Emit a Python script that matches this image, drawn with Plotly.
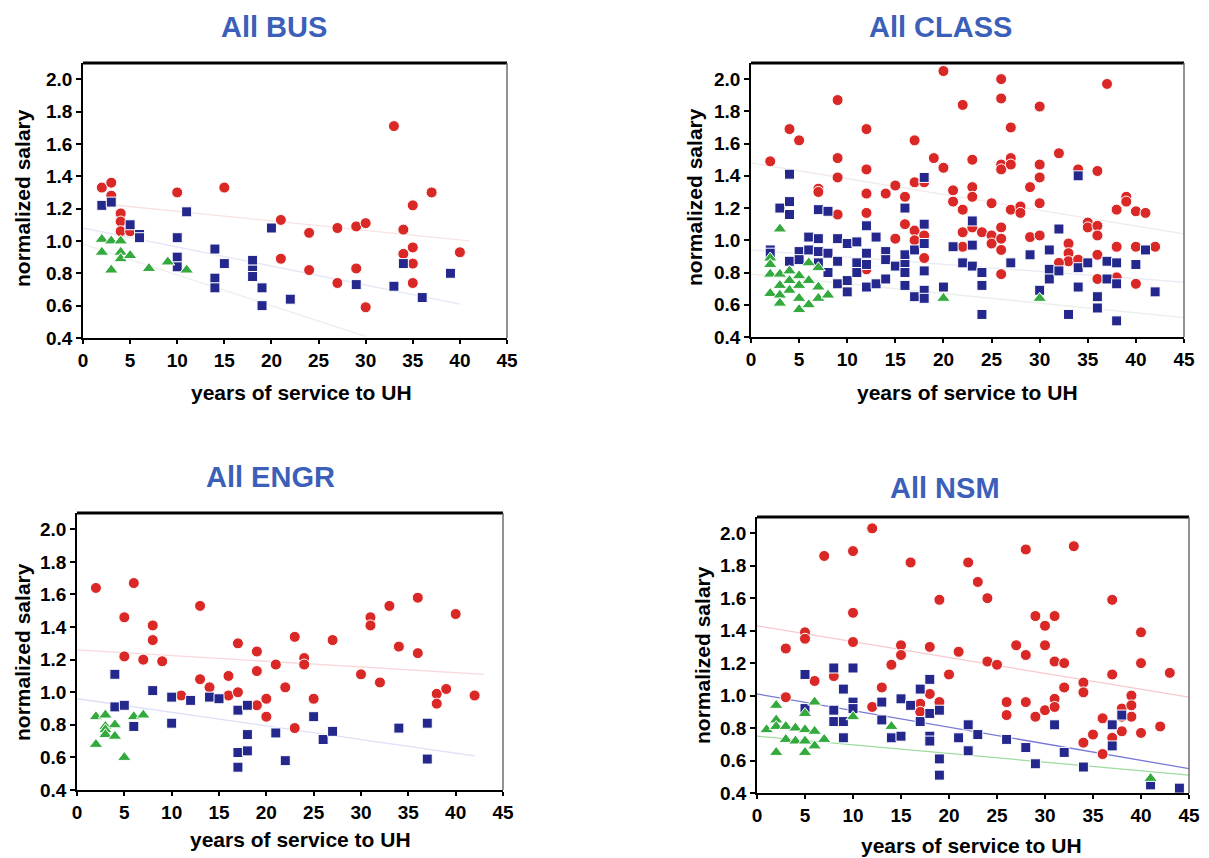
import plotly.graph_objects as go

# ---------------- DATA ----------------
titles = ["All BUS", "All CLASS", "All ENGR", "All NSM"]
x_title = "years of service to UH"
y_title = "normalized salary"
x_ticks = [0, 5, 10, 15, 20, 25, 30, 35, 40, 45]
y_ticks = [0.4, 0.6, 0.8, 1.0, 1.2, 1.4, 1.6, 1.8, 2.0]

# All BUS
bus_red_x = [2, 3, 3, 4, 4, 4, 5, 10, 15, 21, 21, 24, 24, 27, 27, 29, 29, 30, 30, 33, 34, 34, 35, 35, 35, 35, 37, 40]
bus_red_y = [1.33, 1.36, 1.28, 1.17, 1.12, 1.06, 1.06, 1.30, 1.33, 1.13, 0.89, 1.05, 0.82, 1.08, 0.74, 1.09, 0.83, 1.11, 0.59, 1.71, 1.07, 0.92, 1.22, 0.96, 0.86, 0.74, 1.30, 0.93]
bus_blue_x = [2, 3, 5, 6, 6, 10, 10, 10, 11, 14, 14, 14, 15, 18, 18, 18, 19, 19, 20, 22, 29, 33, 34, 36, 39]
bus_blue_y = [1.22, 1.24, 1.10, 1.04, 1.02, 1.02, 0.90, 0.84, 1.18, 0.95, 0.77, 0.71, 0.86, 0.88, 0.82, 0.78, 0.71, 0.60, 1.08, 0.64, 0.73, 0.72, 0.86, 0.65, 0.80]
bus_green_x = [2, 2, 3, 3, 4, 4, 4, 5, 7, 9, 11]
bus_green_y = [1.01, 0.93, 1.00, 0.82, 1.00, 0.93, 0.89, 0.91, 0.83, 0.87, 0.82]
bus_trend_x = {"red": [2, 41], "blue": [0, 40], "green": [0, 30]}
bus_trend_y = {"red": [1.23, 1.00], "blue": [1.08, 0.61], "green": [0.98, 0.41]}

# All CLASS
class_red_x = [2, 4, 5, 7, 7, 9, 9, 9, 9, 12, 12, 12, 12, 12, 14, 15, 15, 16, 17, 17, 16, 17, 18, 17, 18, 18,
               19, 20, 20, 21, 21, 22, 22, 22, 22, 23, 23, 23, 23, 24, 25, 25, 25, 26, 26, 26, 26, 26, 26, 26, 26,
               27, 27, 27, 27, 28, 28, 29, 29, 30, 30, 30, 30, 30, 32, 33, 33, 33, 32, 34, 34, 35, 35, 36, 36, 36,
               36, 36, 37, 38, 38, 38, 39, 39, 40, 40, 40, 41, 42]
class_red_y = [1.49, 1.69, 1.62, 1.32, 1.30, 1.87, 1.51, 1.39, 1.16, 1.69, 1.44, 1.29, 1.17, 0.82, 1.29, 1.34, 1.01,
               1.27, 1.62, 1.36, 1.10, 1.06, 1.03, 1.00, 0.89, 1.36, 1.51, 2.05, 1.45, 1.31, 1.24, 1.84, 1.19, 1.05,
               0.96, 1.50, 1.33, 1.27, 1.08, 1.05, 1.23, 1.03, 0.98, 2.00, 1.88, 1.47, 1.44, 1.08, 1.01, 0.94, 0.79,
               1.70, 1.51, 1.47, 1.19, 1.21, 1.17, 1.33, 1.02, 1.83, 1.47, 1.39, 1.23, 1.03, 1.54, 0.98, 0.92, 0.87,
               0.86, 1.44, 0.88, 1.11, 1.08, 1.43, 1.09, 1.03, 0.91, 0.76, 1.97, 1.19, 0.96, 0.77, 1.27, 1.24, 1.18,
               0.96, 0.73, 1.17, 0.96]
class_blue_x = [2, 2, 3, 4, 4, 4, 4, 5, 5, 6, 6, 7, 7, 7, 7, 8, 8, 8, 9, 9, 9, 10, 10, 10, 11, 11, 11, 12, 12, 12,
                12, 13, 13, 14, 14, 14, 15, 16, 16, 16, 16, 16, 17, 17, 18, 18, 18, 18, 18, 18, 20, 21, 22, 23, 23,
                23, 24, 24, 24, 27, 29, 30, 31, 31, 31, 32, 32, 33, 34, 34, 34, 35, 36, 36, 37, 37, 38, 38, 38, 40,
                41, 42]
class_blue_y = [0.94, 0.92, 1.20, 1.41, 1.24, 1.16, 0.87, 0.93, 0.88, 1.02, 0.94, 1.19, 1.01, 0.93, 0.86, 1.18, 0.92,
                0.80, 1.01, 0.87, 0.73, 0.98, 0.75, 0.68, 0.99, 0.86, 0.80, 1.09, 0.92, 0.85, 0.71, 1.02, 0.73, 0.93,
                0.88, 0.76, 0.84, 1.20, 0.91, 0.85, 0.80, 0.72, 0.94, 0.65, 1.39, 1.10, 0.98, 0.81, 0.69, 0.64, 0.71,
                0.96, 0.86, 1.12, 0.97, 0.84, 0.80, 0.72, 0.54, 0.86, 0.91, 0.69, 0.94, 0.82, 0.76, 1.07, 0.81, 0.54,
                1.40, 0.83, 0.71, 0.86, 0.65, 0.58, 0.87, 0.76, 0.86, 0.73, 0.50, 0.85, 0.94, 0.68]
class_green_x = [2, 2, 2, 2, 3, 3, 3, 3, 3, 4, 4, 4, 5, 5, 5, 5, 6, 6, 6, 7, 7, 7, 8, 20, 30]
class_green_y = [0.89, 0.85, 0.79, 0.67, 1.07, 0.79, 0.72, 0.66, 0.61, 0.81, 0.75, 0.69, 0.78, 0.72, 0.64, 0.57,
                 0.86, 0.75, 0.60, 0.83, 0.71, 0.64, 0.66, 0.64, 0.64]
class_trend_x = {"red": [0, 45], "blue": [0, 45], "green": [0, 45]}
class_trend_y = {"red": [1.48, 1.04], "blue": [0.94, 0.74], "green": [0.79, 0.52]}

# All ENGR
engr_red_x = [2, 5, 5, 6, 7, 8, 8, 9, 11, 13, 13, 14, 16, 16, 17, 17, 19, 19, 19, 20, 20, 21, 22, 23, 23, 24, 24,
              25, 27, 30, 31, 31, 32, 33, 34, 36, 36, 38, 38, 39, 40, 42]
engr_red_y = [1.64, 1.46, 1.22, 1.67, 1.20, 1.41, 1.32, 1.19, 0.98, 1.53, 1.08, 1.03, 1.10, 0.98, 1.30, 1.00, 1.25,
              1.13, 0.92, 0.96, 0.85, 1.17, 1.03, 1.34, 0.78, 1.21, 1.17, 0.96, 1.32, 1.11, 1.46, 1.41, 1.06, 1.53,
              1.28, 1.58, 1.24, 0.99, 0.93, 1.02, 1.48, 0.98]
engr_blue_x = [4, 4, 5, 6, 8, 10, 10, 12, 14, 15, 17, 17, 17, 18, 18, 18, 21, 22, 25, 26, 27, 34, 37, 37]
engr_blue_y = [1.11, 0.91, 0.92, 0.79, 1.01, 0.97, 0.81, 0.95, 0.97, 0.96, 0.89, 0.63, 0.54, 0.92, 0.74, 0.64, 0.75,
               0.58, 0.85, 0.71, 0.76, 0.78, 0.81, 0.59]
engr_green_x = [2, 2, 3, 3, 3, 3, 4, 4, 5, 6, 7]
engr_green_y = [0.85, 0.68, 0.86, 0.79, 0.77, 0.74, 0.80, 0.73, 0.60, 0.85, 0.86]
engr_trend_x = {"red": [0, 43], "blue": [0, 42]}
engr_trend_y = {"red": [1.26, 1.11], "blue": [0.96, 0.61]}

# All NSM
nsm_red_x = [3, 3, 5, 5, 6, 7, 8, 10, 10, 10, 12, 12, 13, 14, 15, 15, 16, 17, 17, 18, 18, 19, 19, 20, 21, 22, 23,
             24, 24, 25, 26, 26, 27, 28, 28, 28, 29, 29, 30, 30, 30, 31, 31, 31, 31, 32, 32, 33, 34, 34, 34, 35, 36,
             36, 37, 37, 37, 38, 38, 38, 39, 39, 39, 40, 40, 40, 42, 43]
nsm_red_y = [1.29, 0.99, 1.39, 1.35, 1.09, 1.86, 1.12, 1.89, 1.51, 1.33, 0.93, 2.03, 1.05, 1.19, 1.31, 1.25, 1.82,
             0.95, 0.90, 1.30, 1.01, 1.59, 0.96, 1.13, 1.27, 1.82, 1.70, 1.60, 1.21, 1.19, 0.96, 0.88, 1.31, 1.90,
             1.25, 0.96, 0.87, 1.49, 1.43, 1.31, 0.91, 1.49, 1.21, 0.98, 0.93, 1.20, 1.05, 1.92, 1.08, 1.02, 0.71,
             0.76, 0.86, 0.64, 1.59, 1.13, 0.74, 0.78, 0.87, 0.92, 1.00, 0.94, 0.87, 1.39, 1.20, 0.77, 0.81, 1.14]
nsm_blue_x = [5, 5, 8, 8, 8, 9, 9, 9, 10, 10, 10, 13, 13, 14, 15, 15, 16, 17, 17, 18, 18, 18, 18, 19, 19, 19, 21,
              22, 22, 23, 26, 28, 29, 31, 32, 34, 37, 37, 38, 41, 44]
nsm_blue_y = [1.13, 0.92, 1.17, 0.91, 0.84, 1.04, 0.84, 0.74, 1.17, 0.96, 0.92, 0.96, 0.85, 0.74, 0.98, 0.75, 0.94,
              1.04, 0.84, 1.10, 0.89, 0.75, 0.72, 0.91, 0.61, 0.51, 0.74, 0.82, 0.66, 0.76, 0.73, 0.68, 0.58, 0.82,
              0.65, 0.56, 0.82, 0.69, 0.88, 0.45, 0.43]
nsm_green_x = [1, 2, 2, 2, 2, 3, 3, 4, 4, 5, 5, 5, 5, 6, 6, 6, 7, 10, 14, 41]
nsm_green_y = [0.79, 0.94, 0.85, 0.81, 0.65, 0.81, 0.73, 0.80, 0.72, 0.89, 0.79, 0.72, 0.65, 0.96, 0.78, 0.69, 0.73,
               0.87, 0.81, 0.49]
nsm_trend_x = {"red": [0, 45], "blue": [0, 45], "green": [0, 45]}
nsm_trend_y = {"red": [1.43, 0.99], "blue": [1.01, 0.55], "green": [0.75, 0.51]}

# ---------------- STYLE ----------------
RED = "rgb(218,40,38)"
BLUE = "rgb(36,40,140)"
GREEN = "rgb(52,170,62)"
TITLE_BLUE = "rgb(60,95,185)"
FONT = "Liberation Sans, Arial, sans-serif"

panels = [
    dict(red=(bus_red_x, bus_red_y), blue=(bus_blue_x, bus_blue_y), green=(bus_green_x, bus_green_y),
         tx=bus_trend_x, ty=bus_trend_y,
         tcol={"red": "rgba(240,190,190,0.45)", "blue": "rgba(200,200,235,0.45)", "green": "rgba(215,215,215,0.45)"},
         xd=[83, 507], yd=[63, 338], title_xy=(274, 27), xt_xy=(301, 393), yt_xy=(23, 198)),
    dict(red=(class_red_x, class_red_y), blue=(class_blue_x, class_blue_y), green=(class_green_x, class_green_y),
         tx=class_trend_x, ty=class_trend_y,
         tcol={"red": "rgba(230,215,215,0.55)", "blue": "rgba(215,215,230,0.55)", "green": "rgba(215,225,215,0.55)"},
         xd=[751, 1184], yd=[63, 337], title_xy=(940, 27), xt_xy=(967, 393), yt_xy=(694, 197)),
    dict(red=(engr_red_x, engr_red_y), blue=(engr_blue_x, engr_blue_y), green=(engr_green_x, engr_green_y),
         tx=engr_trend_x, ty=engr_trend_y,
         tcol={"red": "rgba(248,205,210,0.8)", "blue": "rgba(215,215,245,0.8)"},
         xd=[77, 503], yd=[513, 790], title_xy=(270, 477), xt_xy=(300, 839), yt_xy=(22, 652)),
    dict(red=(nsm_red_x, nsm_red_y), blue=(nsm_blue_x, nsm_blue_y), green=(nsm_green_x, nsm_green_y),
         tx=nsm_trend_x, ty=nsm_trend_y,
         tcol={"red": "rgb(246,200,205)", "blue": "rgb(120,120,215)", "green": "rgb(160,220,160)"},
         xd=[757, 1189], yd=[517, 793], title_xy=(945, 488), xt_xy=(971, 845), yt_xy=(702, 655)),
]

# the page body has an 8px margin: the figure is shrunk and every pixel position shifted by it
OFF = 8
W, H = 1209 - OFF, 858 - OFF


def px(v):
    return (v - OFF) / W


def py(v):
    return 1 - (v - OFF) / H


fig = go.Figure()
layout = dict(width=W, height=H, margin=dict(l=0, r=0, t=0, b=0),
              paper_bgcolor="white", plot_bgcolor="white", showlegend=False,
              font=dict(family=FONT, color="black"))
annotations = []
shapes = []

for i, p in enumerate(panels):
    n = i + 1
    xa = "x" if n == 1 else f"x{n}"
    ya = "y" if n == 1 else f"y{n}"
    xkey = "xaxis" if n == 1 else f"xaxis{n}"
    ykey = "yaxis" if n == 1 else f"yaxis{n}"

    for key in p["tx"]:
        fig.add_trace(go.Scatter(x=p["tx"][key], y=p["ty"][key], mode="lines",
                                 line=dict(color=p["tcol"][key], width=1.3),
                                 xaxis=xa, yaxis=ya, hoverinfo="skip", cliponaxis=True))
    fig.add_trace(go.Scatter(x=p["red"][0], y=p["red"][1], mode="markers",
                             marker=dict(symbol="circle", size=11, color=RED,
                                         line=dict(color="white", width=1)),
                             xaxis=xa, yaxis=ya))
    fig.add_trace(go.Scatter(x=p["blue"][0], y=p["blue"][1], mode="markers",
                             marker=dict(symbol="square", size=10, color=BLUE,
                                         line=dict(color="white", width=1)),
                             xaxis=xa, yaxis=ya))
    fig.add_trace(go.Scatter(x=p["green"][0], y=p["green"][1], mode="markers",
                             marker=dict(symbol="triangle-up", size=12, color=GREEN,
                                         line=dict(color="white", width=1)),
                             xaxis=xa, yaxis=ya))

    xdom = [px(p["xd"][0]), px(p["xd"][1])]
    ydom = [py(p["yd"][1]), py(p["yd"][0])]
    layout[xkey] = dict(domain=xdom, range=[0, 45], tickvals=x_ticks, ticktext=[str(v) for v in x_ticks],
                        showgrid=False, zeroline=False, showline=True, linecolor="black", linewidth=1.5,
                        ticks="outside", ticklen=4, tickwidth=1.5, tickcolor="black",
                        tickfont=dict(family=FONT, size=19, color="black", weight="bold"),
                        anchor=ya, automargin=False, fixedrange=True)
    layout[ykey] = dict(domain=ydom, range=[0.4, 2.1], tickvals=y_ticks,
                        ticktext=[f"{v:.1f}" for v in y_ticks],
                        showgrid=False, zeroline=False, showline=True, linecolor="black", linewidth=1.5,
                        ticks="outside", ticklen=5, tickwidth=1.5, tickcolor="black",
                        tickfont=dict(family=FONT, size=19, color="black", weight="bold"),
                        anchor=xa, automargin=False, fixedrange=True)

    # frame: thick top, thin grey right
    shapes.append(dict(type="line", xref=f"{xa} domain", yref=f"{ya} domain", x0=0, x1=1, y0=1, y1=1,
                       line=dict(color="black", width=3)))
    shapes.append(dict(type="line", xref=f"{xa} domain", yref=f"{ya} domain", x0=1, x1=1, y0=0, y1=1,
                       line=dict(color="rgb(110,110,110)", width=1.5)))

    tx, ty = p["title_xy"]
    annotations.append(dict(text=titles[i], x=px(tx), y=py(ty), xref="paper", yref="paper",
                            showarrow=False, xanchor="center", yanchor="middle",
                            font=dict(family=FONT, size=29, color=TITLE_BLUE, weight="bold")))
    ax_, ay_ = p["xt_xy"]
    annotations.append(dict(text=x_title, x=px(ax_), y=py(ay_), xref="paper", yref="paper",
                            showarrow=False, xanchor="center", yanchor="middle",
                            font=dict(family=FONT, size=21, color="black", weight="bold")))
    bx, by = p["yt_xy"]
    annotations.append(dict(text=y_title, x=px(bx), y=py(by), xref="paper", yref="paper",
                            showarrow=False, xanchor="center", yanchor="middle", textangle=-90,
                            font=dict(family=FONT, size=21, color="black", weight="bold")))

layout["annotations"] = annotations
layout["shapes"] = shapes
fig.update_layout(**layout)
fig.write_html("out.html")
